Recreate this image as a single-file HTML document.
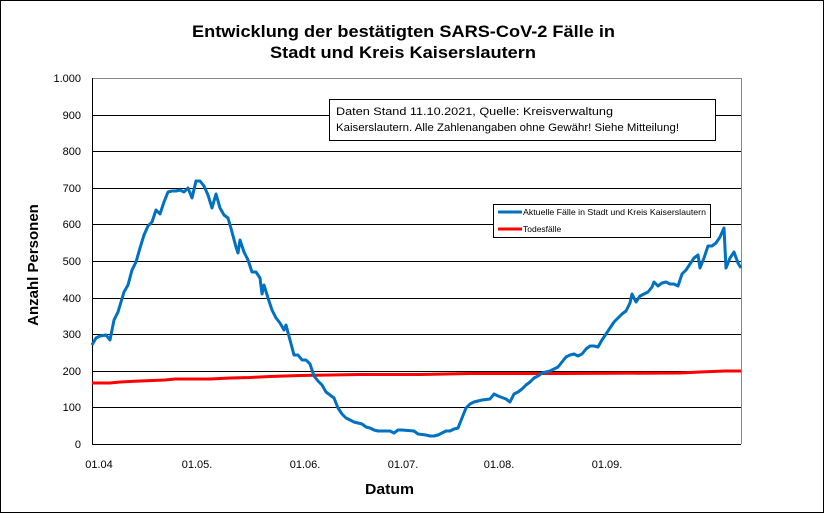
<!DOCTYPE html><html><head><style>body{margin:0;background:#fff}svg{display:block;font-family:"Liberation Sans",Arial,sans-serif}</style></head><body>
<svg width="825" height="514" viewBox="0 0 825 514">
<rect x="0.5" y="0.5" width="823" height="512" fill="#fff" stroke="#000"/>
<text x="192" y="37" font-size="17" font-weight="bold" textLength="423" lengthAdjust="spacingAndGlyphs">Entwicklung der bestätigten SARS-CoV-2 Fälle in</text>
<text x="270" y="58" font-size="17" font-weight="bold" textLength="266" lengthAdjust="spacingAndGlyphs">Stadt und Kreis Kaiserslautern</text>
<g stroke="#000" stroke-width="1">
<line x1="92" y1="78.5" x2="741" y2="78.5" stroke="#888"/>
<line x1="92" y1="115.5" x2="741" y2="115.5"/><line x1="92" y1="151.5" x2="741" y2="151.5"/><line x1="92" y1="188.5" x2="741" y2="188.5"/><line x1="92" y1="224.5" x2="741" y2="224.5"/><line x1="92" y1="261.5" x2="741" y2="261.5"/><line x1="92" y1="298.5" x2="741" y2="298.5"/><line x1="92" y1="334.5" x2="741" y2="334.5"/><line x1="92" y1="371.5" x2="741" y2="371.5"/><line x1="92" y1="407.5" x2="741" y2="407.5"/>
<line x1="92" y1="444.5" x2="741" y2="444.5"/>
<line x1="92.5" y1="78" x2="92.5" y2="444"/>
<line x1="741.5" y1="78" x2="741.5" y2="444" stroke="#888"/>
</g>
<g font-size="11" text-anchor="end">
<text x="81" y="82">1.000</text><text x="81" y="119">900</text><text x="81" y="155">800</text><text x="81" y="192">700</text><text x="81" y="228">600</text><text x="81" y="265">500</text><text x="81" y="302">400</text><text x="81" y="338">300</text><text x="81" y="375">200</text><text x="81" y="411">100</text><text x="81" y="448">0</text>
</g>
<g font-size="11" text-anchor="middle">
<text x="99" y="468">01.04</text><text x="197" y="468">01.05.</text><text x="305" y="468">01.06.</text><text x="403" y="468">01.07.</text><text x="499" y="468">01.08.</text><text x="607" y="468">01.09.</text>
</g>
<text x="365" y="494" font-size="15" font-weight="bold" textLength="49" lengthAdjust="spacingAndGlyphs">Datum</text>
<text transform="translate(38,265) rotate(-90)" font-size="15" font-weight="bold" text-anchor="middle">Anzahl Personen</text>
<rect x="329.5" y="99.5" width="386" height="41" fill="#fff" stroke="#000"/>
<text x="336" y="115" font-size="11" textLength="277" lengthAdjust="spacingAndGlyphs">Daten Stand 11.10.2021, Quelle: Kreisverwaltung</text>
<text x="336" y="131" font-size="11" textLength="343" lengthAdjust="spacingAndGlyphs">Kaiserslautern. Alle Zahlenangaben ohne Gewähr! Siehe Mitteilung!</text>
<polyline fill="none" stroke="#f00" stroke-width="3" points="92,383 110,383 120,382 140,381 165,380 175,379 210,379 230,378 250,377.5 270,376.5 300,375.5 330,375 360,374.5 420,374.5 470,373.5 560,373.5 680,373 700,372 725,371 741,371"/>
<polyline fill="none" stroke="#0070c0" stroke-width="3" stroke-linejoin="round" points="92,345 96,338 100,336 106,335 110,340 114,320 118,312 124,292 128,285 132,270 136,262 140,248 144,235 148,226 152,222 156,210 160,214 164,202 168,192 172,191 176,191 180,190 184,192 188,188 192,198 196,181 200,181 204,186 208,195 212,208 216,194 220,208 224,215 228,218 232,232 236,247 238,253 240,240 244,252 248,260 252,272 256,272 260,278 262,294 264,285 268,298 272,310 276,318 280,323 284,330 286,325 290,340 294,355 298,355 302,360 306,360 310,364 314,376 318,381 322,385 326,392 330,395 334,398 338,408 342,414 346,418 350,420 354,422 358,423 362,424 366,427 370,428 374,430 378,431 390,431 394,433 398,430 402,430 414,431 418,434 426,435 430,436 434,436 438,435 442,433 446,431 450,431 454,429 458,428 462,418 466,408 470,404 474,402 482,400 490,399 494,394 498,396 506,399 510,402 514,394 518,392 522,389 526,385 530,382 534,378 538,376 542,373 550,371 558,367 562,362 566,357 570,355 574,354 578,356 582,354 586,349 590,346 594,346 598,347 602,340 606,334 610,328 614,322 618,318 622,314 626,311 630,303 632,294 636,302 640,296 648,292 652,287 654,282 658,286 662,283 666,282 670,284 674,284 678,286 682,274 686,270 690,264 694,258 698,255 700,268 704,258 708,246 712,246 716,243 720,237 724,228 726,268 730,258 734,252 738,263 741,268"/>
<rect x="493.5" y="204.5" width="217" height="33" fill="#fff" stroke="#000"/>
<line x1="498" y1="212" x2="522" y2="212" stroke="#0070c0" stroke-width="3"/>
<line x1="498" y1="229" x2="522" y2="229" stroke="#f00" stroke-width="3"/>
<text x="523" y="215" font-size="8.5" textLength="183" lengthAdjust="spacingAndGlyphs">Aktuelle Fälle in Stadt und Kreis Kaiserslautern</text>
<text x="523" y="232" font-size="8.5">Todesfälle</text>
</svg></body></html>
